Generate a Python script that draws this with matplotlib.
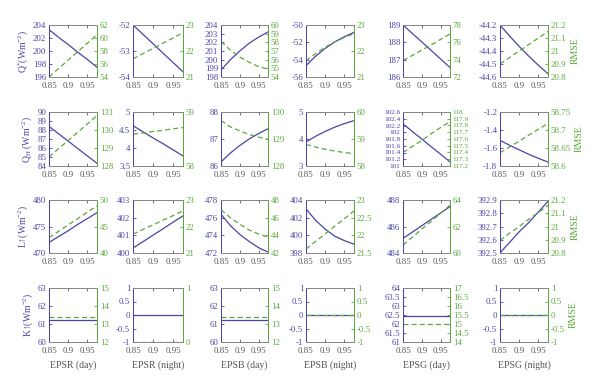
import numpy as np
import matplotlib
matplotlib.use('Agg')
import matplotlib.pyplot as plt
from matplotlib.ticker import FuncFormatter

plt.rcParams['font.family'] = ['Liberation Serif', 'DejaVu Serif']
plt.rcParams['mathtext.fontset'] = 'custom'
plt.rcParams['mathtext.rm'] = 'Liberation Serif'
plt.rcParams['mathtext.it'] = 'Liberation Serif:italic'
plt.rcParams['axes.unicode_minus'] = False

# emissivity values on the x axis
eps = [0.85, 0.875, 0.9, 0.925, 0.95, 0.975]
xlabels = ['EPSR (day)', 'EPSR (night)', 'EPSB (day)', 'EPSB (night)', 'EPSG (day)', 'EPSG (night)']
row_labels = ['Q$^{*}$(Wm$^{-2}$)', 'Q$_{\\mathrm{H}}$ (Wm$^{-2}$)', 'L↑(Wm$^{-2}$)', 'K↑(Wm$^{-2}$)']

# simulated flux (left axis, solid)
qstar_flux = [[203.3, 202.1, 201.0, 199.8, 198.7, 197.5],
              [-52.0, -52.36, -52.72, -53.08, -53.44, -53.8],
              [198.8, 200.0, 201.0, 201.9, 202.6, 203.2],
              [-54.7, -53.6, -52.7, -51.95, -51.35, -50.85],
              [189.0, 188.51, 188.02, 187.53, 187.04, 186.55],
              [-44.2, -44.285, -44.365, -44.44, -44.51, -44.575]]
qh_flux = [[88.4, 87.58, 86.76, 85.94, 85.12, 84.3],
           [4.62, 4.45, 4.28, 4.12, 3.95, 3.78],
           [86.15, 86.48, 86.76, 87.0, 87.2, 87.38],
           [3.89, 4.1, 4.28, 4.44, 4.57, 4.68],
           [102.25, 102.02, 101.8, 101.57, 101.35, 101.12],
           [-1.515, -1.57, -1.62, -1.67, -1.715, -1.756]]
lup_flux = [[472.0, 473.1, 474.2, 475.4, 476.5, 477.6],
            [400.28, 400.64, 401.01, 401.37, 401.74, 402.1],
            [476.4, 475.1, 474.1, 473.3, 472.6, 472.1],
            [403.0, 401.7, 400.7, 399.9, 399.4, 399.0],
            [485.1, 485.58, 486.06, 486.54, 487.02, 487.5],
            [392.5, 392.58, 392.66, 392.73, 392.81, 392.89]]
kup_flux = [[61.25] * 6, [0.0] * 6, [61.25] * 6, [0.0] * 6, [62.45] * 6, [0.0] * 6]

# RMSE (right axis, dashed)
qstar_rmse = [[54.0, 55.3, 56.6, 57.9, 59.2, 60.5],
              [21.7, 21.9, 22.1, 22.3, 22.5, 22.7],
              [58.1, 57.1, 56.3, 55.7, 55.2, 54.9],
              [21.62, 21.9, 22.15, 22.35, 22.52, 22.67],
              [73.9, 74.5, 75.1, 75.7, 76.35, 76.95],
              [20.9, 20.95, 21.0, 21.05, 21.1, 21.15]]
qh_rmse = [[128.5, 128.96, 129.42, 129.88, 130.34, 130.8],
           [58.59, 58.61, 58.64, 58.66, 58.69, 58.71],
           [129.68, 129.45, 129.3, 129.17, 129.07, 128.99],
           [58.8, 58.7, 58.62, 58.55, 58.5, 58.46],
           [117.4, 117.49, 117.58, 117.68, 117.77, 117.86],
           [58.637, 58.653, 58.669, 58.686, 58.702, 58.718]]
lup_rmse = [[42.9, 44.1, 45.3, 46.5, 47.7, 48.9],
            [21.71, 21.89, 22.06, 22.24, 22.41, 22.59],
            [46.9, 46.0, 45.25, 44.6, 44.15, 43.8],
            [21.61, 21.83, 22.04, 22.26, 22.47, 22.69],
            [60.6, 61.2, 61.8, 62.4, 63.0, 63.6],
            [20.895, 20.95, 21.0, 21.055, 21.105, 21.16]]
kup_rmse = [[13.37] * 6, [0.0] * 6, [13.37] * 6, [0.0] * 6, [15.0] * 6, [0.0] * 6]

flux = [qstar_flux, qh_flux, lup_flux, kup_flux]
rmse = [qstar_rmse, qh_rmse, lup_rmse, kup_rmse]

# axis ticks (first/last tick = limits)
left_ticks = [
    [[196, 198, 200, 202, 204], [-54, -53, -52], [198, 199, 200, 201, 202, 203, 204],
     [-56, -54, -52, -50], [186, 187, 188, 189], [-44.6, -44.5, -44.4, -44.3, -44.2]],
    [[84, 85, 86, 87, 88, 89, 90], [3.5, 4, 4.5, 5], [86, 87, 88], [3, 4, 5],
     [101, 101.2, 101.4, 101.6, 101.8, 102, 102.2, 102.4, 102.6], [-1.8, -1.6, -1.4, -1.2]],
    [[470, 475, 480], [400, 401, 402, 403], [472, 474, 476, 478], [398, 400, 402, 404],
     [484, 486, 488], [392.5, 392.6, 392.7, 392.8, 392.9]],
    [[60, 61, 62, 63], [-1, -0.5, 0, 0.5, 1], [60, 61, 62, 63], [-1, -0.5, 0, 0.5, 1],
     [61, 61.5, 62, 62.5, 63, 63.5, 64], [-1, -0.5, 0, 0.5, 1]]]
right_ticks = [
    [[54, 56, 58, 60, 62], [21, 22, 23], [54, 55, 56, 57, 58, 59, 60], [21, 22, 23],
     [72, 74, 76, 78], [20.8, 20.9, 21, 21.1, 21.2]],
    [[128, 129, 130, 131], [58, 59], [128, 129, 130], [58, 59, 60],
     [117.2, 117.3, 117.4, 117.5, 117.6, 117.7, 117.8, 117.9, 118], [58.6, 58.65, 58.7, 58.75]],
    [[40, 45, 50], [21, 22, 23], [42, 44, 46, 48], [21.5, 22, 22.5, 23],
     [60, 62, 64], [20.8, 20.9, 21, 21.1, 21.2]],
    [[12, 13, 14, 15], [0, 1], [12, 13, 14, 15], [-1, -0.5, 0, 0.5, 1],
     [14, 14.5, 15, 15.5, 16, 16.5, 17], [-1, -0.5, 0, 0.5, 1]]]

blue = '#4a44a6'
green = '#5aa83c'
gray = '#555555'

W, H = 600, 388
cols = [(49, 97), (133, 183), (221, 268), (306, 354), (403, 450), (500, 548)]
rows = [(25, 77), (112, 166), (200, 253), (288, 342)]

fmt = FuncFormatter(lambda v, p: '%g' % round(v, 4))

fig = plt.figure(figsize=(6, 3.88), dpi=100)
for r in range(4):
    for c in range(6):
        x0, x1 = cols[c]
        y0, y1 = rows[r]
        ax = fig.add_axes([x0 / W, 1 - y1 / H, (x1 - x0) / W, (y1 - y0) / H])
        ax2 = ax.twinx()
        ax.plot(eps, flux[r][c], color=blue, lw=0.9)
        ax2.plot(eps, rmse[r][c], color=green, lw=0.9, ls=(0, (4, 2.5)))
        lt = left_ticks[r][c]
        rt = right_ticks[r][c]
        ax.set_ylim(lt[0], lt[-1])
        ax.set_yticks(lt)
        ax2.set_ylim(rt[0], rt[-1])
        ax2.set_yticks(rt)
        ax.set_xlim(0.85, 0.975)
        ax.set_xticks([0.85, 0.9, 0.95])
        ax.xaxis.set_major_formatter(fmt)
        ax.yaxis.set_major_formatter(fmt)
        ax2.yaxis.set_major_formatter(fmt)
        lsize = 5.2 if len(lt) > 7 else 6.3
        rsize = 5.2 if len(rt) > 7 else 6.3
        ax.tick_params(axis='x', direction='in', top=True, length=2.5, width=0.6,
                       labelsize=6.3, labelcolor=gray, color=gray, pad=3.5)
        ax.tick_params(axis='y', direction='in', length=2.5, width=0.6,
                       labelsize=lsize, labelcolor=blue, color=blue, pad=2)
        ax2.tick_params(axis='y', direction='in', length=2.5, width=0.6,
                        labelsize=rsize, labelcolor=green, color=green, pad=2)
        for a in (ax, ax2):
            a.spines['top'].set_color('#888888')
            a.spines['bottom'].set_color('#888888')
            a.spines['left'].set_color(blue)
            a.spines['right'].set_color(green)
            for s in a.spines.values():
                s.set_linewidth(0.7)
        if c == 0:
            ax.set_ylabel(row_labels[r], color=blue, fontsize=7, labelpad=2)
        if c == 5:
            ax2.set_ylabel('RMSE', color=green, fontsize=7, labelpad=3)
        if r == 3:
            ax.set_xlabel(xlabels[c], color=gray, fontsize=7, labelpad=4)

fig.savefig('out.png', dpi=100)
